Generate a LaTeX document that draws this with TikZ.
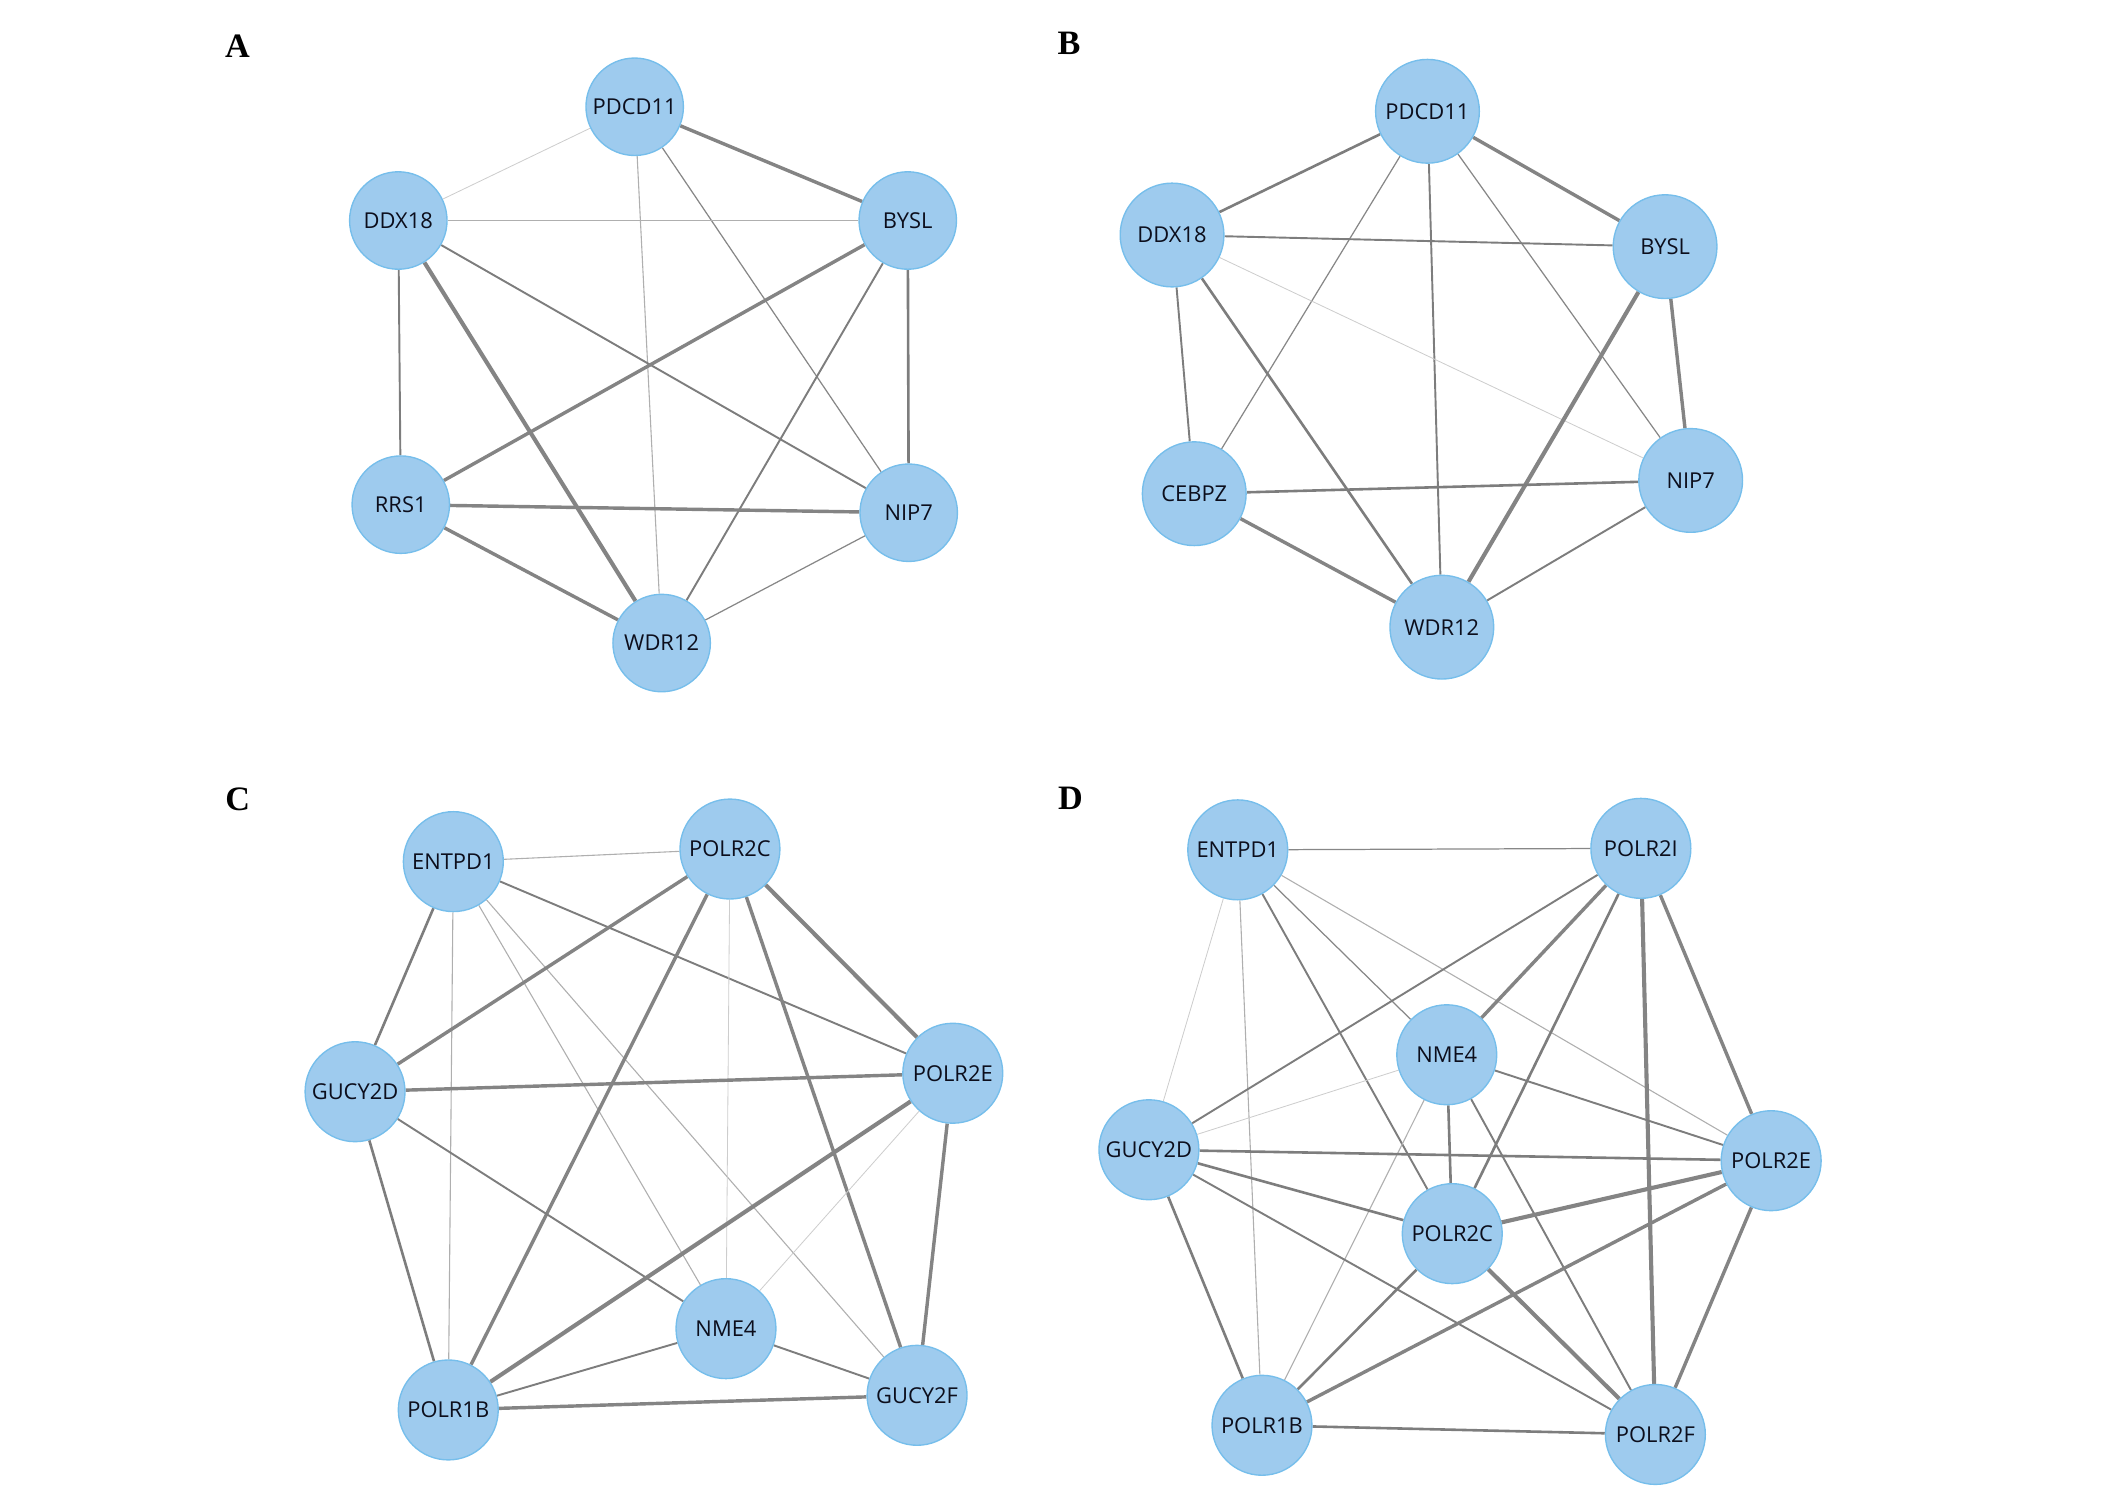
\documentclass[tikz,border=0pt]{standalone}
\usepackage{fontspec}
\setmainfont{Open Sans}
\newfontfamily\labfont{Liberation Serif}
\usetikzlibrary{backgrounds}
\definecolor{nodefill}{RGB}{158,203,238}
\definecolor{nodeline}{RGB}{118,190,235}
\definecolor{txtc}{RGB}{12,14,28}
\definecolor{g0}{RGB}{205,205,205}
\definecolor{g1}{RGB}{175,175,175}
\definecolor{g2}{RGB}{135,135,135}
\definecolor{g3}{RGB}{125,125,125}
\definecolor{g4}{RGB}{132,132,132}
\tikzset{
  gene/.style={circle, fill=nodefill, draw=nodeline, line width=1pt, inner sep=0pt, text=txtc, font=\fontsize{16}{16}\selectfont},
  rA/.style={minimum size=71.2pt},
  rB/.style={minimum size=75.8pt},
  rC/.style={minimum size=73pt},
  rD/.style={minimum size=73pt},
  plab/.style={inner sep=0pt, font=\labfont\bfseries\fontsize{25}{25}\selectfont},
  eL0/.style={draw=g0, line width=0.6pt},
  eL1/.style={draw=g1, line width=0.8pt},
  eT/.style={draw=g2, line width=0.9pt},
  eM/.style={draw=g3, line width=1.4pt},
  eMT/.style={draw=g3, line width=1.9pt},
  eK/.style={draw=g4, line width=2.5pt},
  eKK/.style={draw=g4, line width=3pt}
}
\begin{document}
\begin{tikzpicture}[x=1pt,y=-1pt]
\useasboundingbox (0,0) rectangle (1553.25,1094.4);
% panel labels
\node[plab] (labA) at (173.5,34) {A};
\node[plab] (labB) at (781,32) {B};
\node[plab] (labC) at (173.7,584) {C};
\node[plab] (labD) at (782,583) {D};
% ---------- Panel A ----------
\node[gene,rA] (a1) at (463.7,78) {PDCD11};
\node[gene,rA] (a2) at (291,161.1) {DDX18};
\node[gene,rA] (a3) at (663.2,161.1) {BYSL};
\node[gene,rA] (a4) at (292.8,368.7) {RRS1};
\node[gene,rA] (a5) at (663.9,374.6) {NIP7};
\node[gene,rA] (a6) at (483.4,469.8) {WDR12};
% ---------- Panel B ----------
\node[gene,rB] (b1) at (1042.9,81.3) {PDCD11};
\node[gene,rB] (b2) at (856.3,171.7) {DDX18};
\node[gene,rB] (b3) at (1216.5,180.2) {BYSL};
\node[gene,rB] (b4) at (872.5,360.7) {CEBPZ};
\node[gene,rB] (b5) at (1235.2,351) {NIP7};
\node[gene,rB] (b6) at (1053.4,458.2) {WDR12};
% ---------- Panel C ----------
\node[gene,rC] (c1) at (331.2,629.5) {ENTPD1};
\node[gene,rC] (c2) at (533.3,620.3) {POLR2C};
\node[gene,rC] (c3) at (259.4,797.6) {GUCY2D};
\node[gene,rC] (c4) at (696.1,784.1) {POLR2E};
\node[gene,rC] (c5) at (530.4,970.7) {NME4};
\node[gene,rC] (c6) at (327.5,1030.1) {POLR1B};
\node[gene,rC] (c7) at (670,1019.4) {GUCY2F};
% ---------- Panel D ----------
\node[gene,rD] (d1) at (904.3,620.9) {ENTPD1};
\node[gene,rD] (d2) at (1198.8,619.8) {POLR2I};
\node[gene,rD] (d3) at (1057,770.6) {NME4};
\node[gene,rD] (d4) at (839.4,840) {GUCY2D};
\node[gene,rD] (d5) at (1294,848) {POLR2E};
\node[gene,rD] (d6) at (1061,901.3) {POLR2C};
\node[gene,rD] (d7) at (922,1041.3) {POLR1B};
\node[gene,rD] (d8) at (1209.4,1048) {POLR2F};
\begin{scope}[on background layer]
% A edges
\draw[eL0] (a1) -- (a2);
\draw[eK]  (a1) -- (a3);
\draw[eL1] (a1) -- (a6);
\draw[eT]  (a1) -- (a5);
\draw[eL1] (a2) -- (a3);
\draw[eM]  (a2) -- (a4);
\draw[eKK] (a2) -- (a6);
\draw[eM]  (a2) -- (a5);
\draw[eK]  (a3) -- (a4);
\draw[eM]  (a3) -- (a6);
\draw[eMT] (a3) -- (a5);
\draw[eK]  (a4) -- (a5);
\draw[eK]  (a4) -- (a6);
\draw[eT]  (a5) -- (a6);
% B edges
\draw[eMT] (b1) -- (b2);
\draw[eK]  (b1) -- (b3);
\draw[eT]  (b1) -- (b4);
\draw[eM]  (b1) -- (b6);
\draw[eT]  (b1) -- (b5);
\draw[eM]  (b2) -- (b3);
\draw[eM]  (b2) -- (b4);
\draw[eMT] (b2) -- (b6);
\draw[eL0] (b2) -- (b5);
\draw[eK]  (b3) -- (b5);
\draw[eKK] (b3) -- (b6);
\draw[eMT] (b4) -- (b5);
\draw[eK]  (b4) -- (b6);
\draw[eM]  (b5) -- (b6);
% C edges
\draw[eL1] (c1) -- (c2);
\draw[eMT] (c1) -- (c3);
\draw[eL1] (c1) -- (c6);
\draw[eM]  (c1) -- (c4);
\draw[eL1] (c1) -- (c5);
\draw[eL1] (c1) -- (c7);
\draw[eK]  (c2) -- (c3);
\draw[eK]  (c2) -- (c6);
\draw[eL0] (c2) -- (c5);
\draw[eK]  (c2) -- (c7);
\draw[eKK] (c2) -- (c4);
\draw[eK]  (c3) -- (c4);
\draw[eM]  (c3) -- (c5);
\draw[eMT] (c3) -- (c6);
\draw[eKK] (c4) -- (c6);
\draw[eL0] (c4) -- (c5);
\draw[eK]  (c4) -- (c7);
\draw[eM]  (c5) -- (c6);
\draw[eM]  (c5) -- (c7);
\draw[eK]  (c6) -- (c7);
% D edges
\draw[eT]  (d1) -- (d2);
\draw[eL0] (d1) -- (d4);
\draw[eL1] (d1) -- (d7);
\draw[eM]  (d1) -- (d6);
\draw[eT]  (d1) -- (d3);
\draw[eL1] (d1) -- (d5);
\draw[eM]  (d2) -- (d4);
\draw[eK]  (d2) -- (d3);
\draw[eMT] (d2) -- (d6);
\draw[eKK] (d2) -- (d8);
\draw[eK]  (d2) -- (d5);
\draw[eL0] (d3) -- (d4);
\draw[eMT] (d3) -- (d6);
\draw[eM]  (d3) -- (d5);
\draw[eL1] (d3) -- (d7);
\draw[eM]  (d3) -- (d8);
\draw[eMT] (d4) -- (d5);
\draw[eMT] (d4) -- (d6);
\draw[eM]  (d4) -- (d8);
\draw[eMT] (d4) -- (d7);
\draw[eKK] (d5) -- (d6);
\draw[eK]  (d5) -- (d7);
\draw[eK]  (d5) -- (d8);
\draw[eMT] (d6) -- (d7);
\draw[eKK] (d6) -- (d8);
\draw[eMT] (d7) -- (d8);
\end{scope}
\end{tikzpicture}
\end{document}
